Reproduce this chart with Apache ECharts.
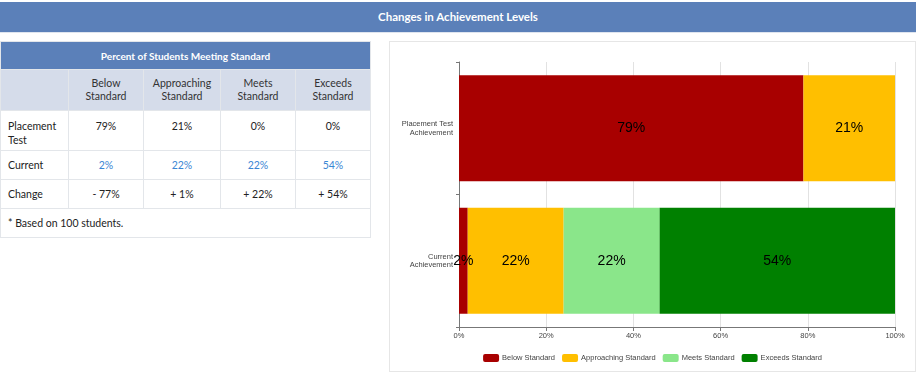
<!DOCTYPE html>
<html>
<head>
<meta charset="utf-8">
<script src="https://cdn.jsdelivr.net/npm/echarts@6/dist/echarts.min.js"></script>
<style>
  html, body { margin: 0; padding: 0; background: #fff; width: 923px; height: 378px; overflow: hidden; }
  #titlebar { position: absolute; left: 0; top: 2px; width: 916px; height: 30px; background: #5b80b9;
    color: #fff; font-family: Lato, sans-serif; font-weight: 700; font-size: 11.5px; line-height: 30px; text-align: center;
    border-bottom: 1px solid #dfe5ef; }
  #tbl { position: absolute; left: 0; top: 41px; border-collapse: collapse; table-layout: fixed; width: 370px;
    font-family: Lato, sans-serif; font-size: 10.5px; color: #222; }
  #tbl td, #tbl th { border: 1px solid #e3e6ea; padding: 0; }
  #tbl .hdr { background: #5b80b9; color: #fff; font-weight: 700; height: 27px; text-align: center; font-size: 10px; }
  #tbl .sub td { background: #d5dcea; height: 40px; text-align: center; line-height: 13px; color: #333; }
  #tbl .r1 td { height: 40px; vertical-align: top; padding-top: 8px; box-sizing: border-box; text-align: center; line-height: 14px; }
  #tbl .r1 td.lab { text-align: left; padding-left: 7px; }
  #tbl .r2 td, #tbl .r3 td { height: 28px; text-align: center; }
  #tbl td.lab { text-align: left; padding-left: 7px; }
  #tbl .r2 td.v { color: #3a86d4; }
  #tbl .note td { height: 28px; padding-left: 7px; text-align: left; }
  #chartwrap { position: absolute; left: 389px; top: 41px; width: 525px; height: 329px; border: 1px solid #e6e6e6; }
  #chart { width: 525px; height: 329px; }
</style>
</head>
<body>
<div id="titlebar">Changes in Achievement Levels</div>
<table id="tbl">
  <colgroup><col style="width:68px"><col style="width:75px"><col style="width:77px"><col style="width:75px"><col style="width:75px"></colgroup>
  <tbody id="tbody"></tbody>
</table>
<div id="chartwrap"><div id="chart"></div></div>
<script>
const tableTitle = "Percent of Students Meeting Standard";
const levelNames = ["Below Standard", "Approaching Standard", "Meets Standard", "Exceeds Standard"];
const levelHeaders = [["Below", "Standard"], ["Approaching", "Standard"], ["Meets", "Standard"], ["Exceeds", "Standard"]];
const rowLabels = ["Placement<br>Test", "Current", "Change"];
const placementValues = [79, 21, 0, 0];
const currentValues = [2, 22, 22, 54];
const changeLabels = ["- 77%", "+ 1%", "+ 22%", "+ 54%"];
const footnote = "* Based on 100 students.";
const categories = ["Placement Test\nAchievement", "Current\nAchievement"];
const belowValues = [79, 2];
const approachingValues = [21, 22];
const meetsValues = [0, 22];
const exceedsValues = [0, 54];
const xTicks = [0, 20, 40, 60, 80, 100];
const colors = ["#a80000", "#ffbf00", "#8ae68a", "#008000"];

// build table
const tb = document.getElementById('tbody');
let html = '<tr><td class="hdr" colspan="5">' + tableTitle + '</td></tr>';
html += '<tr class="sub"><td></td>' + levelHeaders.map(h => '<td>' + h.join('<br>') + '</td>').join('') + '</tr>';
html += '<tr class="r1"><td class="lab">' + rowLabels[0] + '</td>' + placementValues.map(v => '<td>' + v + '%</td>').join('') + '</tr>';
html += '<tr class="r2"><td class="lab">' + rowLabels[1] + '</td>' + currentValues.map(v => '<td class="v">' + v + '%</td>').join('') + '</tr>';
html += '<tr class="r3"><td class="lab">' + rowLabels[2] + '</td>' + changeLabels.map(v => '<td>' + v + '</td>').join('') + '</tr>';
html += '<tr class="note"><td colspan="5">' + footnote + '</td></tr>';
tb.innerHTML = html;

const chart = echarts.init(document.getElementById('chart'));
const seriesData = [belowValues, approachingValues, meetsValues, exceedsValues];
const font = "'Liberation Sans', Arial, sans-serif";
chart.setOption({
  animation: false,
  textStyle: { fontFamily: font },
  grid: { left: 69, right: 20, top: 20, bottom: 44 },
  legend: {
    top: 307, left: 'center', itemWidth: 16, itemHeight: 8, itemGap: 7, icon: 'roundRect',
    textStyle: { fontSize: 7.5, color: '#444', fontFamily: font, padding: [0, 0, 0, -2] },
    data: levelNames
  },
  xAxis: {
    type: 'value', min: 0, max: 100, interval: 20,
    axisLine: { show: true, lineStyle: { color: '#777' } },
    axisTick: { show: true, length: 4, lineStyle: { color: '#777' } },
    splitLine: { show: true, lineStyle: { color: '#e2e2e2' } },
    axisLabel: { fontSize: 7.5, color: '#444', margin: 5, formatter: v => xTicks.includes(v) ? v + '%' : '' }
  },
  yAxis: {
    type: 'category', inverse: true, data: categories,
    axisLine: { show: true, lineStyle: { color: '#777' } },
    axisTick: { show: true, length: 3, lineStyle: { color: '#777' } },
    axisLabel: { fontSize: 7.5, color: '#444', margin: 6, lineHeight: 8.5, align: 'right' }
  },
  series: levelNames.map((name, i) => ({
    name: name, type: 'bar', stack: 'total', barCategoryGap: '20%',
    data: seriesData[i],
    itemStyle: { color: colors[i] },
    label: { show: true, position: 'inside', color: '#000', fontSize: 14, fontFamily: font,
      formatter: p => p.value > 0 ? p.value + '%' : '' }
  }))
});
</script>
</body>
</html>
